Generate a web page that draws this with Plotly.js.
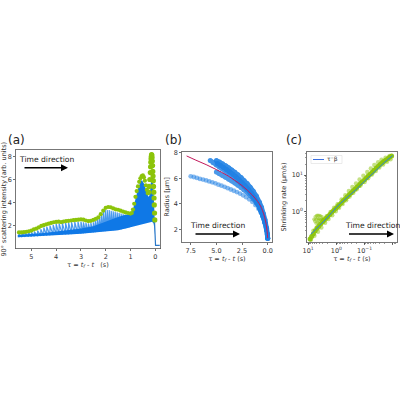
<!DOCTYPE html>
<html><head><meta charset="utf-8">
<script src="https://cdn.plot.ly/plotly-3.0.1.min.js"></script>
<style>html,body{margin:0;padding:0;background:#fff}#c{width:400px;height:400px}</style>
</head><body><div id="c"></div>
<script>
// Panel (a)
const aBodyTau  = [5.55,5.0,4.5,4.0,3.5,3.0,2.5,2.2,2.0,1.8,1.5,1.2,1.0,0.9,0.8,0.7,0.6,0.54,0.45,0.38,0.32,0.28,0.24,0.2,0.16,0.13,0.1,0.07,0.04,0.02];
const aBodyLow  = [1.0,1.05,1.12,1.2,1.25,1.3,1.4,1.48,1.52,1.55,1.6,1.75,1.85,1.9,1.98,2.05,2.08,2.1,2.12,2.15,2.2,2.25,2.28,2.3,2.32,2.35,2.3,2.2,1.8,1.2];
const aBodyHigh = [1.2,1.28,1.38,1.5,1.6,1.75,1.95,2.2,2.4,2.55,2.75,2.95,3.0,3.4,4.4,5.2,5.8,5.95,5.6,5.1,4.7,4.5,4.6,5.2,6.4,7.0,6.6,5.0,3.5,2.4];
const aStripeTau  = [5.5,5.38,5.25,5.12,5.0,4.88,4.75,4.62,4.5,4.38,4.25,4.12,4.0,3.88,3.75,3.62,3.5,3.38,3.25,3.12,3.0,2.9,2.8,2.7,2.6,2.5,2.42,2.34,2.26,2.18,2.1,2.02,1.94,1.86,1.78,1.7,1.62,1.54,1.46,1.38,1.3,1.22,1.14,1.06];
const aStripeHigh = [1.3,1.35,1.38,1.42,1.45,1.5,1.58,1.7,1.85,1.92,2.0,2.08,2.15,2.2,2.22,2.25,2.28,2.3,2.32,2.35,2.35,2.3,2.25,2.2,2.25,2.3,2.4,2.6,2.8,3.0,3.2,3.35,3.35,3.35,3.3,3.25,3.2,3.15,3.1,3.05,3.0,2.95,2.95,2.9];
const aStripeLow  = [1.0,1.02,1.04,1.05,1.06,1.08,1.1,1.12,1.14,1.16,1.18,1.2,1.22,1.23,1.24,1.25,1.26,1.28,1.29,1.3,1.32,1.34,1.36,1.38,1.4,1.42,1.44,1.46,1.48,1.5,1.52,1.53,1.54,1.55,1.56,1.58,1.6,1.62,1.65,1.68,1.72,1.76,1.8,1.84];
const aTailTau = [0.03,0.01,0.0,-0.01,-0.18];
const aTailVal = [2.3,1.4,0.6,0.3,0.3];
const aGreenTau = [5.5,5.4,5.3,5.2,5.1,5.0,4.9,4.8,4.7,4.6,4.5,4.4,4.3,4.2,4.1,4.0,3.9,3.8,3.7,3.6,3.5,3.4,3.3,3.2,3.1,3.0,2.9,2.8,2.7,2.6,2.5,2.4,2.3,2.2,2.1,2.0,1.9,1.8,1.7,1.6,1.5,1.4,1.3,1.2,1.1,1.0,0.95,0.9,0.85,0.8,0.75,0.7,0.65,0.6,0.55,0.5,0.46,0.42,0.38,0.34,0.3];
const aGreenVal = [1.42,1.42,1.45,1.48,1.52,1.58,1.68,1.75,1.85,1.98,2.05,2.12,2.18,2.24,2.3,2.33,2.35,2.32,2.36,2.4,2.42,2.45,2.48,2.5,2.52,2.55,2.52,2.45,2.4,2.42,2.5,2.6,2.72,3.0,3.3,3.55,3.62,3.6,3.5,3.42,3.38,3.3,3.22,3.15,3.1,3.05,3.1,3.4,3.9,4.5,5.0,5.4,5.8,6.1,6.3,6.35,6.2,5.9,5.5,5.1,4.8];
const aPeakTau = [0.27,0.25,0.22,0.2,0.19,0.18,0.17,0.16,0.15,0.14,0.13,0.12,0.11,0.1,0.09,0.08,0.07,0.06,0.05,0.04,0.03,0.02];
const aPeakVal = [4.9,5.4,6.0,6.6,7.1,7.5,7.8,8.0,8.15,8.1,7.9,7.6,7.2,6.7,6.3,5.9,5.4,4.9,4.4,3.8,3.1,2.5];
// Panel (b)
const bModelTau = [7.9,7.0,6.0,5.0,4.0,3.0,2.5,2.0,1.5,1.0,0.7,0.5,0.3,0.15,0.05,0.0];
const bModelVal = [7.75,7.42,7.07,6.68,6.25,5.72,5.42,5.08,4.68,4.2,3.82,3.45,2.95,2.4,1.8,1.3];
const bC1Tau = [7.5,7.2,6.9,6.6,6.3,6.0,5.7,5.4,5.1,4.8,4.5,4.2,3.9,3.6,3.3,3.0,2.7,2.4,2.1,1.8,1.5,1.2,0.9,0.7,0.5,0.35,0.2,0.1,0.03,0.0];
const bC1Val = [6.15,6.1,6.03,5.95,5.9,5.83,5.75,5.68,5.6,5.5,5.42,5.33,5.22,5.12,5.02,4.92,4.8,4.66,4.52,4.35,4.15,3.9,3.6,3.35,3.0,2.7,2.25,1.9,1.5,1.3];
const bC2Tau = [5.0,4.7,4.4,4.1,3.8,3.5,3.2,2.9,2.6,2.3,2.0,1.7,1.4,1.1,0.8,0.6,0.4,0.25,0.1,0.03,0.0];
const bC2Val = [6.5,6.35,6.22,6.08,5.93,5.78,5.62,5.45,5.28,5.08,4.88,4.65,4.38,4.05,3.65,3.3,2.9,2.5,1.95,1.55,1.3];
const bC3Tau = [5.6,5.3,5.0,4.7,4.4,4.1,3.8,3.5,3.2,2.9,2.6,2.3,2.0,1.7,1.4,1.1,0.8,0.6,0.4,0.25,0.1,0.03,0.0];
const bC3Val = [7.4,7.22,7.05,6.88,6.72,6.55,6.38,6.2,6.0,5.8,5.58,5.35,5.1,4.82,4.52,4.15,3.7,3.35,2.9,2.5,1.95,1.55,1.3];
const bC4Tau = [5.0,4.7,4.4,4.1,3.8,3.5,3.2,2.9,2.6,2.3,2.0,1.7,1.4,1.1,0.8,0.6,0.4,0.25,0.1,0.03,0.0];
const bC4Val = [7.4,7.27,7.13,6.98,6.82,6.65,6.47,6.27,6.06,5.82,5.58,5.3,4.98,4.6,4.12,3.72,3.2,2.72,2.05,1.6,1.3];
const bC5Tau = [4.9,4.6,4.3,4.0,3.7,3.4,3.1,2.8,2.5,2.2,1.9,1.6,1.3,1.0,0.7,0.5,0.3,0.15,0.05,0.0];
const bC5Val = [7.15,7.0,6.85,6.68,6.5,6.32,6.12,5.9,5.67,5.42,5.15,4.85,4.5,4.05,3.5,3.05,2.55,2.1,1.65,1.3];
// Panel (c)
const cLineTau = [8,4,2,1,0.5,0.2,0.1,0.05,0.02,0.01];
const cLineVal = [0.24,0.41,0.71,1.3,2.15,4.0,6.8,11.2,22,34];
const cGreenTau = [8.5,7.5,6.5,5.6,4.8,4.2,3.6,3.1,2.7,2.3,2.0,1.7,1.45,1.25,1.05,0.9,0.78,0.66,0.56,0.48,0.41,0.35,0.3,0.26,0.22,0.19,0.16,0.14,0.12,0.1,0.085,0.073,0.062,0.053,0.046,0.039,0.033,0.028,0.024,0.021,0.018,0.015,0.013,0.011];
const cGreenVal = [0.18,0.21,0.25,0.3,0.35,0.4,0.46,0.52,0.58,0.66,0.74,0.84,0.96,1.08,1.22,1.38,1.55,1.76,2.0,2.25,2.55,2.9,3.25,3.65,4.1,4.65,5.2,5.9,6.6,7.4,8.4,9.5,10.7,12,13.6,15.4,17.5,19.5,21.5,23.5,25.5,28,30.5,33];
const cUpperTau = [6.5,5,4,3,2.2,1.6,1.2,0.9,0.65,0.48,0.36,0.27,0.2,0.15,0.11,0.08,0.06,0.045,0.033,0.025,0.018,0.013];
const cUpperVal = [0.3,0.37,0.44,0.56,0.75,0.97,1.27,1.6,2.15,2.8,3.65,4.7,5.9,7.5,9.5,12.2,15,18.8,22.5,26,29.5,33];
const cLowerTau = [8,6,4.5,3.4,2.5,1.9,1.4,1.05,0.8,0.6,0.45,0.34,0.25,0.19,0.14,0.1,0.075,0.055,0.04,0.03,0.022,0.016,0.012];
const cLowerVal = [0.17,0.22,0.28,0.37,0.5,0.63,0.8,1.02,1.28,1.62,2.05,2.6,3.3,4.1,5.2,6.5,8.2,10.3,13,16,19.5,23,27];
const cBlobTau = [6.2,5.6,5.0,4.5,4.0,3.6,3.2,5.8,5.2,4.6,4.1,5.2,4.7,4.2,3.7,3.3,3.0,2.8];
const cBlobVal = [0.62,0.72,0.78,0.8,0.78,0.76,0.72,0.55,0.62,0.66,0.64,0.48,0.52,0.56,0.6,0.62,0.62,0.64];
const cTickVals = [10,1,0.1,0.01];
const cTickText = ["10<sup>1</sup>","10<sup>0</sup>","10<sup>−1</sup>","10<sup>−2</sup>"];
const cYTickVals = [10,1];
const cYTickText = ["10<sup>1</sup>","10<sup>0</sup>"];
const legendLabel = "τ⁻β";
const timeLabel = "Time direction";
const panelLabels = ["(a)","(b)","(c)"];

const font = "DejaVu Sans, sans-serif";
const blue = "#0f78e6", green = "#8cc40a", ink = "#333", bCol="#1f80e4";
function interleave(t,a,b){const x=[],y=[];t.forEach((v,i)=>{x.push(v,v);y.push(a[i],b[i]);});return {x,y};}
const st = interleave(aStripeTau,aStripeLow,aStripeHigh);
const curve = (x,y,op)=>({x,y,xaxis:"x2",yaxis:"y2",mode:"lines+markers",showlegend:false,opacity:op,
  line:{color:bCol,width:4.5,shape:"spline"},marker:{color:bCol,size:5}});
const gcloud = (x,y,op,s)=>({x,y,xaxis:"x3",yaxis:"y3",mode:"markers",showlegend:false,
  marker:{color:green,size:s,opacity:op}});
const data = [
 {x:st.x,y:st.y,mode:"lines",line:{color:"#2a88ea",width:1.2},opacity:0.85,showlegend:false},
 {x:aBodyTau,y:aBodyLow,mode:"lines",line:{width:0,color:blue},showlegend:false},
 {x:aBodyTau,y:aBodyHigh,mode:"lines",line:{width:0,color:blue},fill:"tonexty",fillcolor:blue,showlegend:false},
 {x:aTailTau,y:aTailVal,mode:"lines",line:{color:"#2a78c8",width:1.2},showlegend:false},
 {x:aGreenTau,y:aGreenVal,mode:"markers",marker:{color:green,size:4.2},showlegend:false},
 {x:aPeakTau,y:aPeakVal,mode:"markers",marker:{color:green,size:5.2},showlegend:false},
 {x:bC1Tau,y:bC1Val,xaxis:"x2",yaxis:"y2",mode:"markers",showlegend:false,marker:{color:bCol,size:4.8,opacity:0.55}},
 curve(bC2Tau,bC2Val,0.8),curve(bC3Tau,bC3Val,0.85),curve(bC4Tau,bC4Val,0.9),curve(bC5Tau,bC5Val,0.9),
 {x:bModelTau,y:bModelVal,xaxis:"x2",yaxis:"y2",mode:"lines",line:{color:"#c2185b",width:1,shape:"spline"},showlegend:false},
 gcloud(cUpperTau,cUpperVal,0.5,4.5),gcloud(cLowerTau,cLowerVal,0.5,4.5),gcloud(cBlobTau,cBlobVal,0.5,3.6),
 gcloud(cGreenTau,cGreenVal,0.95,5),
 {x:cLineTau,y:cLineVal,xaxis:"x3",yaxis:"y3",mode:"lines",showlegend:false,line:{color:"#2f80dc",width:1,shape:"spline"}}
];
const W=400,H=400;
const dx=(a,b)=>[a/W,b/W], dy=(t,b)=>[1-b/H,1-t/H];
const ax = {showgrid:false,zeroline:false,showline:true,mirror:true,linecolor:"#555",linewidth:0.8,ticks:"outside",ticklen:2,tickwidth:0.7,tickcolor:ink,
  tickfont:{family:font,size:6.5,color:ink}};
const ttl=(t,s)=>({text:t,font:{family:font,size:6.5,color:ink},standoff:s});
const tauTitle = "τ = <i>t<sub>f</sub></i> - <i>t</i>";
const annT=(x,y)=>({text:timeLabel,xref:"paper",yref:"paper",x:x/W,y:1-y/H,showarrow:false,xanchor:"left",yanchor:"middle",borderpad:0,font:{family:font,size:7.6,color:"#222"}});
const annA=(x0,x1,y)=>({text:"",xref:"paper",yref:"paper",axref:"pixel",ayref:"pixel",x:x1/W,y:1-y/H,ax:x0-x1,ay:0,showarrow:true,arrowhead:2,arrowsize:1,arrowwidth:1.4,arrowcolor:"#000"});
const annP=(t,x)=>({text:t,xref:"paper",yref:"paper",x:x/W,y:1-140/H,showarrow:false,xanchor:"left",yanchor:"middle",borderpad:0,font:{family:font,size:12,color:"#222"}});
const layout = {width:W,height:H,margin:{l:0,r:0,t:0,b:0},paper_bgcolor:"#fff",plot_bgcolor:"#fff",showlegend:false,
 xaxis:{...ax,domain:dx(16,160),anchor:"y",range:[5.62,-0.19],tickvals:[5,4,3,2,1,0],title:ttl(tauTitle+"   (s)",0)},
 yaxis:{...ax,domain:dy(150,248.5),anchor:"x",range:[0.03,8.55],tickvals:[2,4,6,8],title:ttl("90° scattering intensity (arb. units)",4)},
 xaxis2:{...ax,domain:dx(182,272),anchor:"y2",range:[8.35,-0.42],tickvals:[7.5,5,2.5,0],ticktext:["7.5","5.0","2.5","0.0"],title:ttl(tauTitle+" (s)",1)},
 yaxis2:{...ax,domain:dy(152,242),anchor:"x2",range:[1,8.06],tickvals:[2,4,6,8],title:ttl("Radius [µm]",3)},
 xaxis3:{...ax,domain:dx(307,397),anchor:"y3",type:"log",range:[1.04,-2.15],tickvals:cTickVals,ticktext:cTickText,minor:{dtick:"D1",ticks:"outside",ticklen:1.2,tickwidth:0.5,tickcolor:ink,showgrid:false},title:ttl(tauTitle+" (s)",1)},
 yaxis3:{...ax,domain:dy(152,242),anchor:"x3",type:"log",range:[-0.83,1.63],tickvals:cYTickVals,ticktext:cYTickText,minor:{dtick:"D1",ticks:"outside",ticklen:1.2,tickwidth:0.5,tickcolor:ink,showgrid:false},title:ttl("Shrinking rate (µm/s)",4)},
 shapes:[
  {type:"rect",xref:"paper",yref:"paper",x0:311/W,x1:342/W,y0:1-163.5/H,y1:1-155.5/H,line:{color:"#ddd",width:0.6},fillcolor:"rgba(255,255,255,0.85)"},
  {type:"line",xref:"paper",yref:"paper",x0:313/W,x1:324/W,y0:1-159.5/H,y1:1-159.5/H,line:{color:"#3b6fe0",width:1}}
 ],
 annotations:[annT(17.5,159),annA(23,68,167.7),annT(189,226),annA(194,240,234),annT(343.5,226),annA(347.5,394,234),annP(panelLabels[0],7),annP(panelLabels[1],163.5),annP(panelLabels[2],285),
  {text:legendLabel,xref:"paper",yref:"paper",x:326/W,y:1-159.5/H,showarrow:false,xanchor:"left",yanchor:"middle",borderpad:0,font:{family:font,size:6,color:ink}}]
};
Plotly.newPlot("c",data,layout,{displayModeBar:false,staticPlot:true});
</script></body></html>
